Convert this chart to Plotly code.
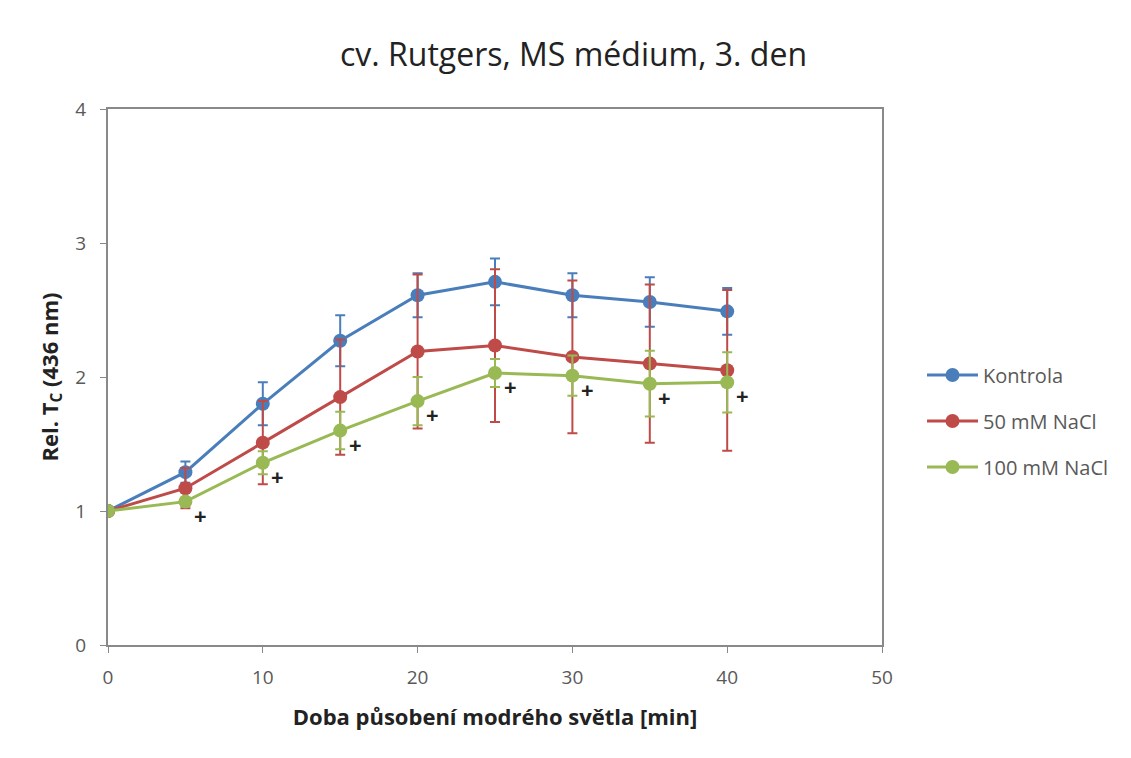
import plotly.graph_objects as go

time_min = [0, 5, 10, 15, 20, 25, 30, 35, 40]
series_names = ["Kontrola", "50 mM NaCl", "100 mM NaCl"]
kontrola = [1.0, 1.29, 1.80, 2.27, 2.61, 2.71, 2.61, 2.56, 2.49]
kontrola_err = [0.0, 0.08, 0.16, 0.19, 0.165, 0.175, 0.165, 0.185, 0.175]
nacl50 = [1.0, 1.17, 1.51, 1.85, 2.19, 2.235, 2.15, 2.10, 2.05]
nacl50_err = [0.0, 0.15, 0.31, 0.43, 0.575, 0.57, 0.57, 0.59, 0.60]
nacl100 = [1.0, 1.07, 1.36, 1.60, 1.82, 2.03, 2.01, 1.95, 1.96]
nacl100_err = [0.0, 0.03, 0.085, 0.14, 0.18, 0.105, 0.15, 0.245, 0.225]
sig_marks = ["", "+", "+", "+", "+", "+", "+", "+", "+"]

x_ticks = [0, 10, 20, 30, 40, 50]
y_ticks = [0, 1, 2, 3, 4]

colors = ["#4A7EBB", "#BE4B48", "#98B954"]
values = [kontrola, nacl50, nacl100]
errors = [kontrola_err, nacl50_err, nacl100_err]

fig = go.Figure()
for i, (name, ys, es, c) in enumerate(zip(series_names, values, errors, colors)):
    fig.add_trace(go.Scatter(
        x=time_min, y=ys, name=name, mode="lines+markers", legendgroup=f"g{i}",
        line=dict(color=c, width=3),
        marker=dict(color=c, size=14),
        error_y=dict(type="data", array=es, visible=True, color=c, thickness=2, width=5),
    ))

for x, y, t in zip(time_min, nacl100, sig_marks):
    if t:
        fig.add_annotation(x=x, y=y, text=f"<b>{t}</b>", showarrow=False, xshift=15, yshift=-13,
                           font=dict(size=22, color="#222222", family="Open Sans"))

fig.update_layout(
    width=1131, height=758,
    margin=dict(l=100, r=257, t=101, b=121),
    paper_bgcolor="white", plot_bgcolor="white",
    font=dict(family="Open Sans", color="#595959"),
    title=dict(text="cv. Rutgers, MS médium, 3. den", x=0.5, xanchor="center", y=0.938, yanchor="middle",
               font=dict(size=32, color="#222222", family="Open Sans")),
    xaxis=dict(range=[0, 50], tickvals=x_ticks, showgrid=False, zeroline=False,
               showline=True, mirror=True, linecolor="#898989", linewidth=2, ticks="outside", ticklen=6,
               tickcolor="#898989", tickfont=dict(size=19, color="#595959"), ticklabelstandoff=8,
               title=dict(text="<b>Doba působení modrého světla [min]</b>", standoff=21,
                          font=dict(size=22, color="#222222"))),
    yaxis=dict(range=[0, 4], tickvals=y_ticks, showgrid=False, zeroline=False,
               showline=True, mirror=True, linecolor="#898989", linewidth=2, ticks="outside", ticklen=6,
               tickcolor="#898989", tickfont=dict(size=19, color="#595959"), ticklabelstandoff=10,
               title=dict(text="<b>Rel. T<sub>C</sub> (436 nm)</b>", standoff=11,
                          font=dict(size=22, color="#222222"))),
    legend=dict(x=1.0517, y=0.418, xanchor="left", yanchor="middle", tracegroupgap=17,
                itemwidth=51, font=dict(size=20, color="#595959")),
    showlegend=True,
)

fig.write_html("out.html")
